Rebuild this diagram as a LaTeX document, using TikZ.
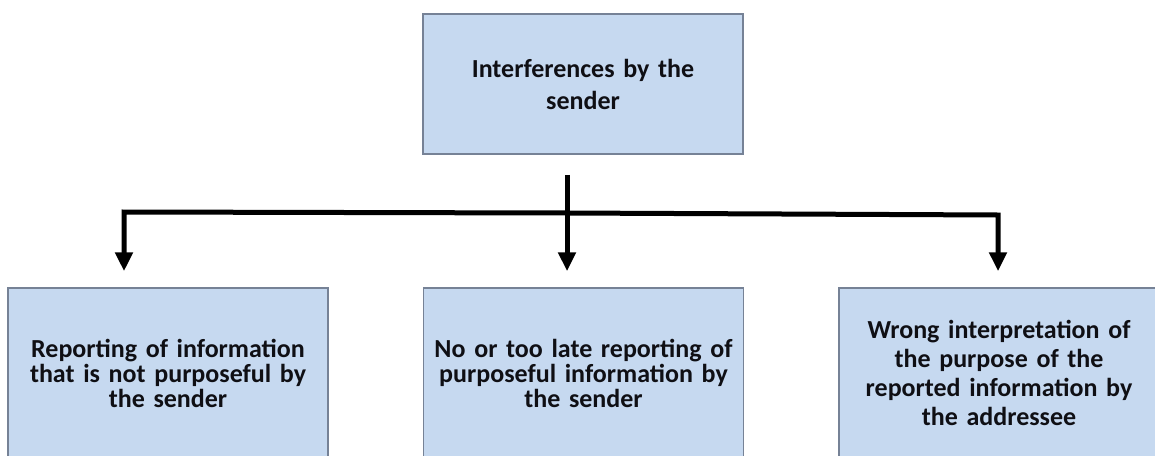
\documentclass[tikz,border=0pt]{standalone}
\usepackage{fontspec}
\setmainfont{Carlito}
\usetikzlibrary{arrows.meta,positioning}
\definecolor{boxfill}{RGB}{198,217,240}
\definecolor{boxline}{RGB}{118,130,150}
\definecolor{inktext}{RGB}{15,15,20}
\tikzset{
  causebox/.style={draw=boxline, line width=1.5pt, fill=boxfill, text=inktext,
    font=\bfseries\fontsize{26}{25}\selectfont, align=center,
    minimum width=320pt, text width=316pt, inner sep=0pt},
  feed/.style={line width=5pt, line join=miter, -{Triangle[width=17pt,length=19pt]}}
}

\begin{document}
\begin{tikzpicture}[x=1pt,y=-1pt]
%%%%% START %%%%%
\useasboundingbox (0,0) rectangle (1155,455);
\clip (0,0) rectangle (1155,455);

\node[causebox, minimum height=140pt, font=\bfseries\fontsize{26}{32}\selectfont] (sender) at (583,84) {Interferences by the\\sender};

\node[causebox, minimum height=170pt] (notpurp) at (168,373) {Reporting of information\\that is not purposeful by\\the sender};
\node[causebox, minimum height=170pt] (latepurp) at (583.5,373) {No or too late reporting of\\purposeful information by\\the sender};
\node[causebox, minimum height=170pt, font=\bfseries\fontsize{26}{29}\selectfont] (misread) at (999,373) {Wrong interpretation of\\the purpose of the\\reported information by\\the addressee};

\coordinate (split) at (567,213);
\coordinate (dropL) at (124,212);
\coordinate (dropR) at (998,215);

\draw[feed, shorten <=20pt, shorten >=16pt] (sender.south -| split) -- (latepurp.north -| split);
\draw[feed, shorten >=16pt] (split) -- (dropL) -- (dropL |- notpurp.north);
\draw[feed, shorten >=16pt] (split) -- (dropR) -- (dropR |- misread.north);
%%%%% END %%%%%
\end{tikzpicture}
\end{document}
